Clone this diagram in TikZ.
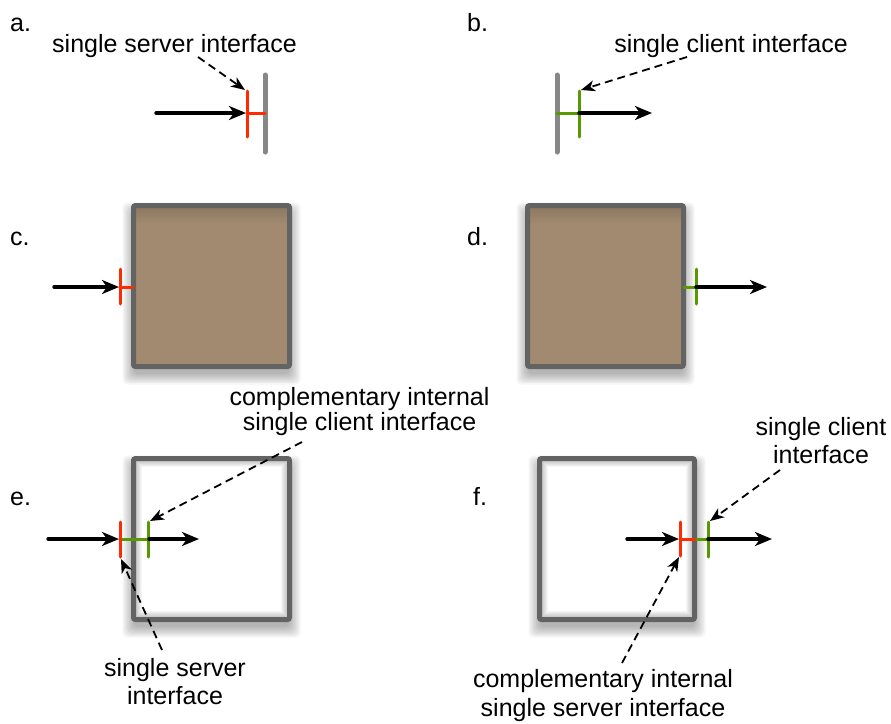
\documentclass[tikz,border=0pt]{standalone}
\usepackage{fontspec}
\setmainfont{Liberation Sans}
\usetikzlibrary{arrows.meta}

\definecolor{srvred}{RGB}{255,42,0}
\definecolor{cligreen}{RGB}{88,152,0}
\definecolor{wallgray}{RGB}{135,135,135}
\definecolor{boxgray}{RGB}{99,99,99}
\definecolor{boxbrown}{RGB}{161,138,111}

\tikzset{
  lbl/.style={font=\fontsize{25}{28}\selectfont, inner sep=0pt},
  flow/.style={line width=3.4pt, line cap=round,
    -{Stealth[length=17pt,width=14pt,inset=5pt]}},
  callout/.style={line width=1.8pt, dash pattern=on 8pt off 5pt,
    -{Stealth[length=14pt,width=11pt,inset=4pt]}},
  srv/.style={srvred, line width=3pt, line cap=round},
  cli/.style={cligreen, line width=3pt, line cap=round},
  wall/.style={wallgray, line width=5pt, line cap=round},
  comp/.style={draw=boxgray, line width=5pt, rounded corners=2pt},
}

% soft drop shadow under a component box (outer corners x1,y1,x2,y2)
\newcommand\compshadow[4]{%
  \foreach \e in {-2,-0.5,...,9}{%
    \fill[black, opacity=0.04, rounded corners=5pt]
      ({#1-\e},{#2-\e+8}) rectangle ({#3+\e},{#4+\e+7});
  }%
}
% soft inner shading along the inside of a white box border
\newcommand\compinner[4]{%
  \begin{scope}
    \clip ({#1+5},{#2+5}) rectangle ({#3-5},{#4-5});
    \foreach \k in {1,...,6}{%
      \draw[black, opacity=0.035, line width={5pt+2*\k pt}]
        ({#1+2.5},{#2+2.5}) rectangle ({#3-2.5},{#4-2.5});
    }%
  \end{scope}
}

\begin{document}
\begin{tikzpicture}[x=1pt, y=-1pt]
\fill[white] (0,0) rectangle (891,723);
\useasboundingbox (0,0) rectangle (891,723);

% ---------- panel tags ----------
\node[lbl, anchor=base west] (tag-a) at (10,31) {a.};
\node[lbl, anchor=base west] (tag-b) at (467,31) {b.};
\node[lbl, anchor=base west] (tag-c) at (10,245) {c.};
\node[lbl, anchor=base west] (tag-d) at (467,245) {d.};
\node[lbl, anchor=base west] (tag-e) at (10,505) {e.};
\node[lbl, anchor=base west] (tag-f) at (473,505) {f.};

% ---------- a. single server interface on a wall ----------
\draw[wall] (265,75) -- (265,152);
\draw[srv] (247,113) -- (265,113);
\draw[srv] (247,91) -- (247,137);
\coordinate (a-src) at (156,113);
\coordinate (a-in) at (246,113);
\draw[flow] (a-src) -- (a-in);
\node[lbl, anchor=base] (note-a) at (174.5,52) {single server interface};
\coordinate (a-from) at (198,57);
\coordinate (a-to) at (245,90);
\draw[callout] (a-from) -- (a-to);

% ---------- b. single client interface on a wall ----------
\draw[wall] (557,75) -- (557,152);
\draw[cli] (557,113) -- (579,113);
\draw[cli] (579,91) -- (579,137);
\coordinate (b-out) at (579,113);
\coordinate (b-dst) at (652,113);
\draw[flow] (b-out) -- (b-dst);
\node[lbl, anchor=base] (note-b) at (731,52) {single client interface};
\coordinate (b-from) at (687,57);
\coordinate (b-to) at (581,90);
\draw[callout] (b-from) -- (b-to);

% ---------- c. component with a server interface ----------
\compshadow{131}{203}{292}{369}
\fill[boxbrown] (133.5,205.5) rectangle (289.5,366.5);
\shade[top color=boxbrown!88!black, bottom color=boxbrown] (136,208) rectangle (287,224);
\draw[comp] (133.5,205.5) rectangle (289.5,366.5);
\draw[srv] (120,287) -- (133,287);
\draw[srv] (120,269) -- (120,304);
\coordinate (c-src) at (54,287);
\coordinate (c-in) at (119,287);
\draw[flow] (c-src) -- (c-in);

% ---------- d. component with a client interface ----------
\compshadow{525}{203}{686}{369}
\fill[boxbrown] (527.5,205.5) rectangle (683.5,366.5);
\shade[top color=boxbrown!88!black, bottom color=boxbrown] (530,208) rectangle (681,224);
\draw[comp] (527.5,205.5) rectangle (683.5,366.5);
\draw[cli] (684,287) -- (696,287);
\draw[cli] (696,269) -- (696,304);
\coordinate (d-out) at (696,287);
\coordinate (d-dst) at (767,287);
\draw[flow] (d-out) -- (d-dst);

% ---------- e. composite: server interface delegated inward ----------
\compshadow{131}{456}{292}{622}
\fill[white] (133.5,458.5) rectangle (289.5,619.5);
\compinner{131}{456}{292}{622}
\draw[comp] (133.5,458.5) rectangle (289.5,619.5);
\draw[cli] (120,539) -- (148,539);
\draw[srv] (120,522) -- (120,557);
\draw[cli] (148,522) -- (148,557);
\coordinate (e-src) at (48,539);
\coordinate (e-in) at (119,539);
\draw[flow] (e-src) -- (e-in);
\coordinate (e-out) at (149,539);
\coordinate (e-dst) at (199,539);
\draw[flow] (e-out) -- (e-dst);
\node[lbl, align=center, font=\fontsize{25}{25}\selectfont] (note-e1) at (359.5,412)
  {complementary internal\\single client interface};
\coordinate (e1-from) at (302,442);
\coordinate (e1-to) at (150,521);
\draw[callout] (e1-from) -- (e1-to);
\node[lbl, align=center] (note-e2) at (175,682) {single server\\interface};
\coordinate (e2-from) at (162,650);
\coordinate (e2-to) at (121,559);
\draw[callout] (e2-from) -- (e2-to);

% ---------- f. composite: client interface delegated outward ----------
\compshadow{537}{456}{697}{622}
\fill[white] (539.5,458.5) rectangle (694.5,619.5);
\compinner{537}{456}{697}{622}
\draw[comp] (539.5,458.5) rectangle (694.5,619.5);
\draw[srv] (680,539) -- (696.5,539);
\draw[cli] (696.5,539) -- (708,539);
\draw[srv] (680,522) -- (680,556);
\draw[cli] (708,522) -- (708,557);
\coordinate (f-src) at (627,539);
\coordinate (f-in) at (679,539);
\draw[flow] (f-src) -- (f-in);
\coordinate (f-out) at (708,539);
\coordinate (f-dst) at (772,539);
\draw[flow] (f-out) -- (f-dst);
\node[lbl, align=center] (note-f1) at (821,441) {single client\\interface};
\coordinate (f1-from) at (780,470);
\coordinate (f1-to) at (710,521);
\draw[callout] (f1-from) -- (f1-to);
\node[lbl, align=center, font=\fontsize{25}{29}\selectfont] (note-f2) at (603,696)
  {complementary internal\\single server interface};
\coordinate (f2-from) at (622,663);
\coordinate (f2-to) at (679,557);
\draw[callout] (f2-from) -- (f2-to);
\end{tikzpicture}
\end{document}
